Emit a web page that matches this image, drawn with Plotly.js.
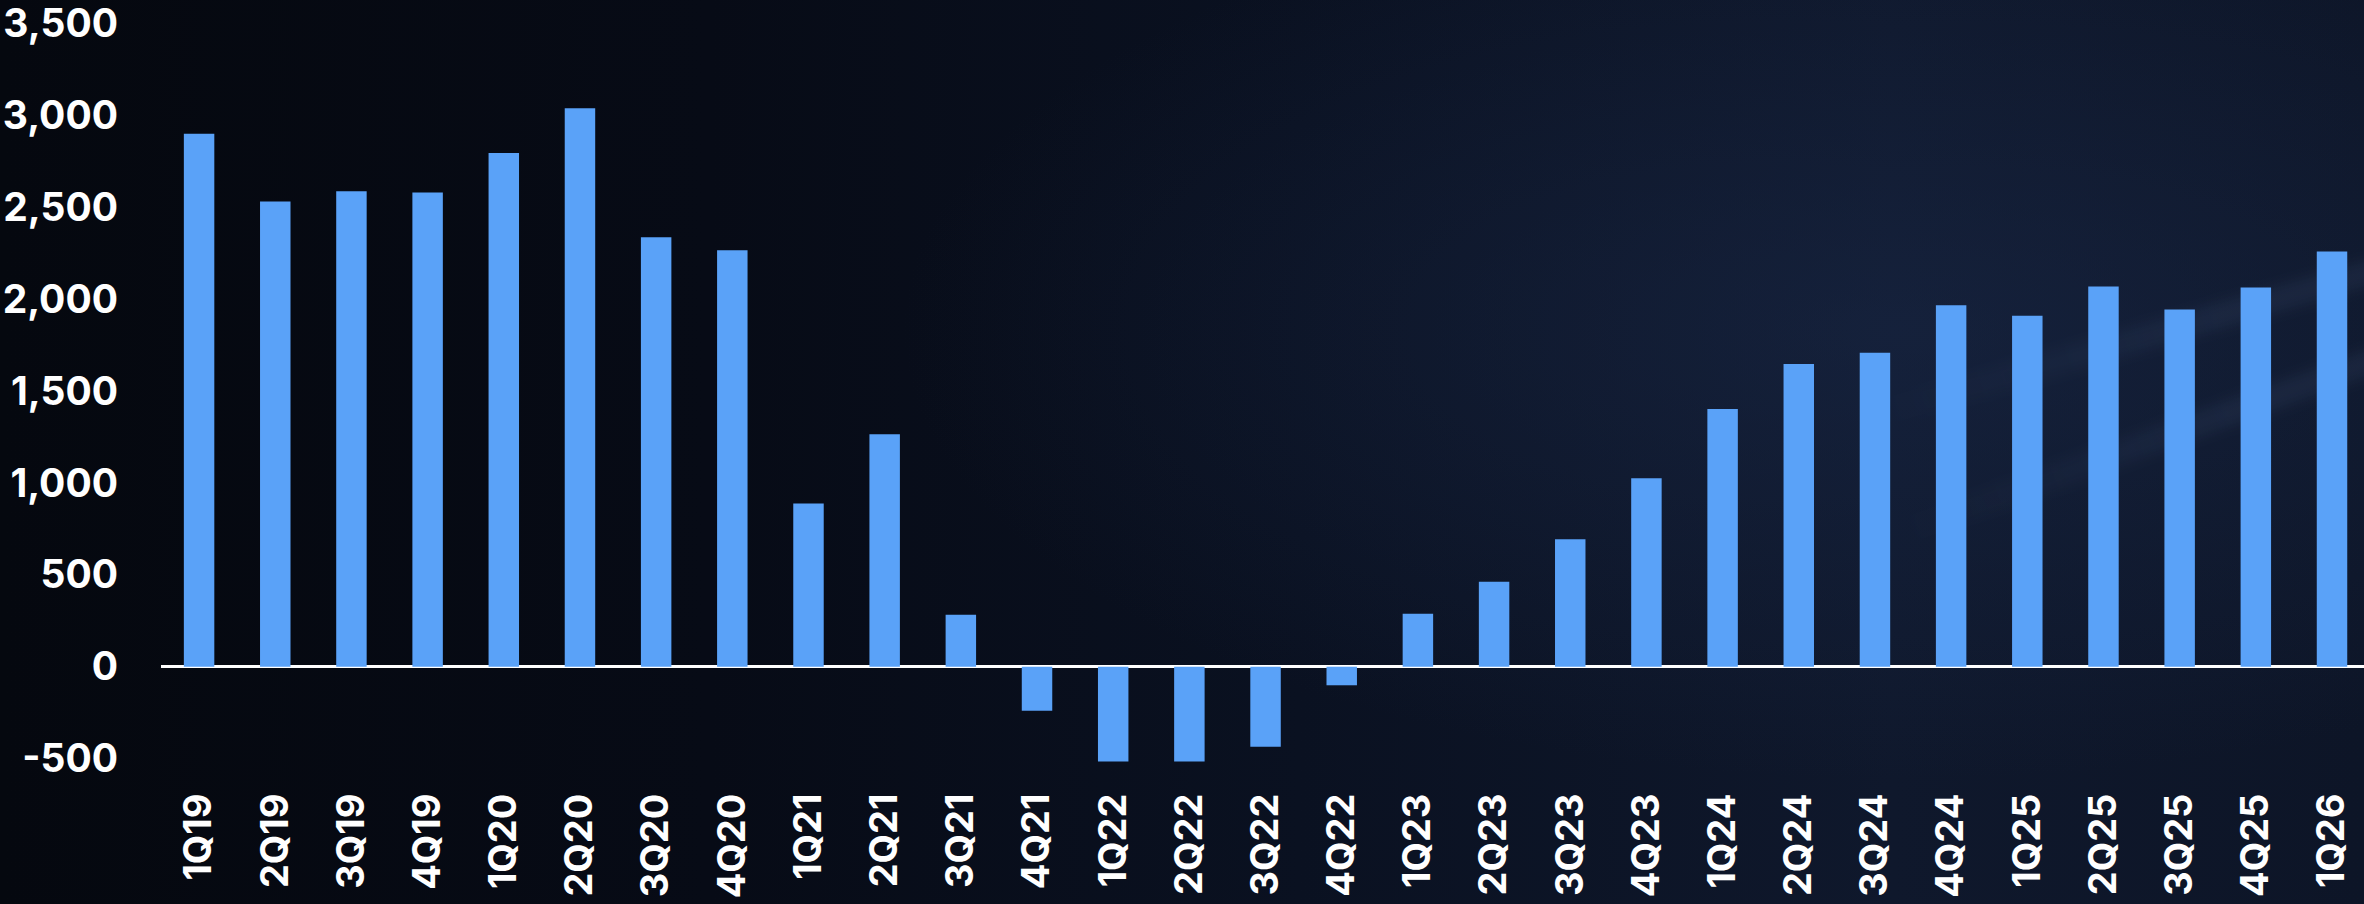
<!DOCTYPE html>
<html>
<head>
<meta charset="utf-8">
<script src="https://cdn.plot.ly/plotly-3.0.1.min.js"></script>
<style>
  html, body { margin: 0; padding: 0; width: 2364px; height: 904px; overflow: hidden; }
  body {
    position: relative;
    background:
      radial-gradient(ellipse 1000px 450px at 1900px 330px, rgba(28,44,78,0.45), rgba(0,0,0,0) 100%),
      linear-gradient(to right, #05080f 0%, #070b16 30%, #0a1121 55%, #0f182c 80%, #0d1527 100%);
  }
  .streak {
    position: absolute;
    height: 26px;
    width: 900px;
    border-radius: 13px;
    background: linear-gradient(to right, rgba(140,170,220,0) 0%, rgba(140,170,220,0.07) 40%, rgba(140,170,220,0.07) 70%, rgba(140,170,220,0) 100%);
    filter: blur(6px);
    transform-origin: left center;
  }
  #s1 { left: 1880px; top: 400px; transform: rotate(-16deg); }
  #s2 { left: 1900px; top: 520px; transform: rotate(-20deg); }
  #chart { position: absolute; left: 0; top: 0; width: 2364px; height: 904px; }
</style>
</head>
<body>
<div class="streak" id="s1"></div>
<div class="streak" id="s2"></div>
<div id="chart"></div>
<script>
const quarters = ["1Q19","2Q19","3Q19","4Q19","1Q20","2Q20","3Q20","4Q20",
  "1Q21","2Q21","3Q21","4Q21","1Q22","2Q22","3Q22","4Q22",
  "1Q23","2Q23","3Q23","4Q23","1Q24","2Q24","3Q24","4Q24",
  "1Q25","2Q25","3Q25","4Q25","1Q26"];
const values = [2900, 2531, 2587, 2580, 2795, 3038, 2337, 2266,
  888, 1265, 283, -239, -515, -515, -435, -101,
  288, 462, 694, 1025, 1402, 1647, 1708, 1966,
  1909, 2069, 1944, 2063, 2259];
const yTickVals = [-500, 0, 500, 1000, 1500, 2000, 2500, 3000, 3500];
const yTickText = ["-500", "0", "500", "1,000", "1,500", "2,000", "2,500", "3,000", "3,500"];

const fontFamily = "Inter, 'Open Sans', sans-serif";

const trace = {
  type: 'bar',
  x: quarters,
  y: values,
  marker: { color: '#5aa2f8', line: { width: 0 } },
  hoverinfo: 'skip'
};

const layout = {
  width: 2364,
  height: 904,
  margin: { l: 161, r: 0, t: 5, b: 127 },
  paper_bgcolor: 'rgba(0,0,0,0)',
  plot_bgcolor: 'rgba(0,0,0,0)',
  bargap: 0.6,
  showlegend: false,
  xaxis: {
    type: 'category',
    range: [-0.5, 28.42],
    showgrid: false,
    zeroline: false,
    showline: false,
    ticks: '',
    tickangle: -90,
    ticklabelstandoff: 8,
    ticklabeloverflow: 'allow',
    tickfont: { family: fontFamily, size: 38, color: '#ffffff', weight: 700 },
    fixedrange: true
  },
  yaxis: {
    range: [-600, 3600],
    tickvals: yTickVals,
    ticktext: yTickText,
    showgrid: false,
    zeroline: true,
    zerolinecolor: '#ffffff',
    zerolinewidth: 3,
    showline: false,
    ticks: '',
    ticklabelstandoff: 42,
    ticklabeloverflow: 'allow',
    tickfont: { family: fontFamily, size: 39, color: '#ffffff', weight: 700 },
    fixedrange: true
  }
};

Plotly.newPlot('chart', [trace], layout, { staticPlot: true, displayModeBar: false });
</script>
</body>
</html>
